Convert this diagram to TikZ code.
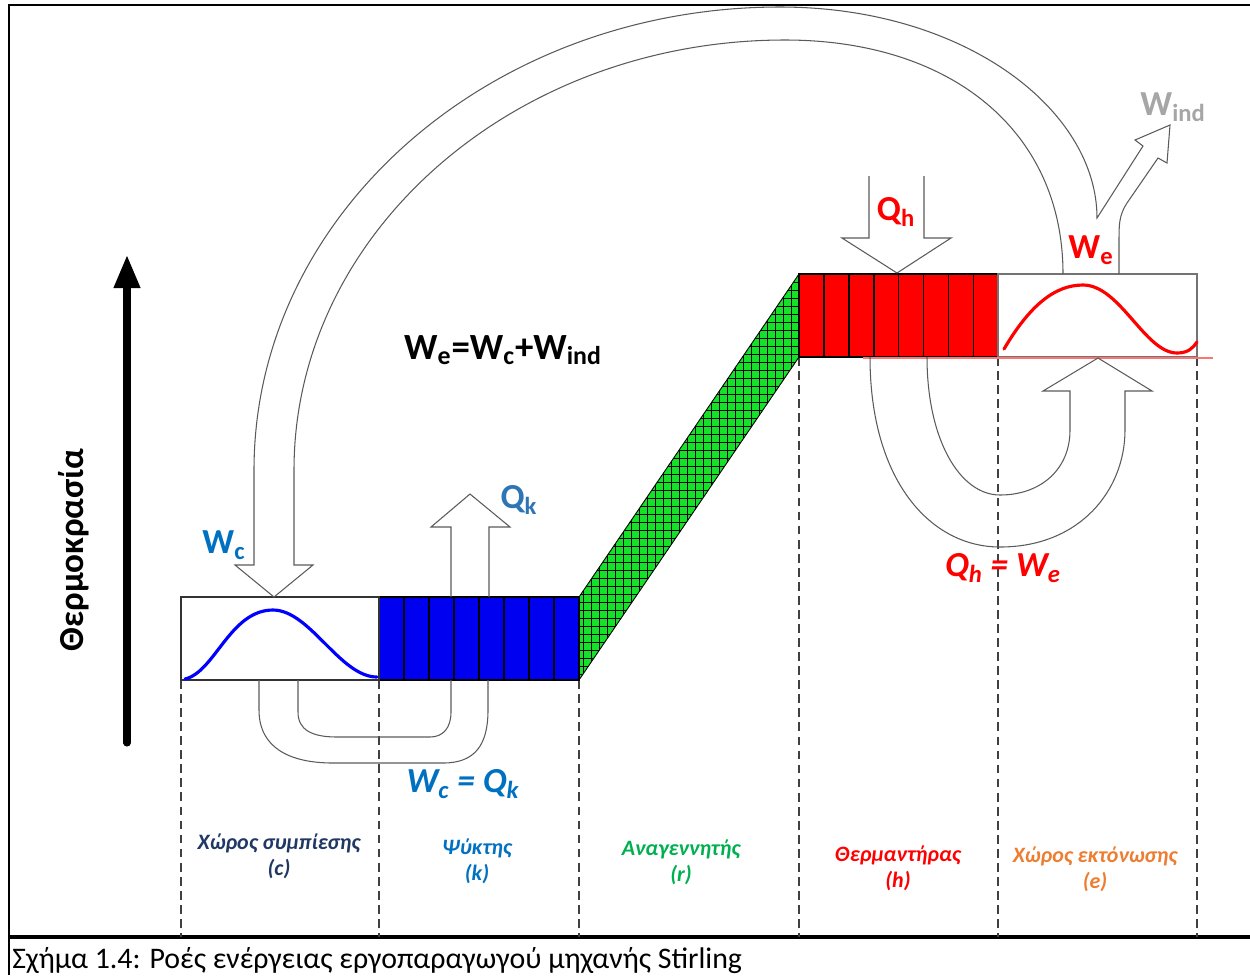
\documentclass[tikz,border=0pt]{standalone}
\usepackage{fontspec}
\setmainfont{Carlito}
\usepackage{xcolor}
\usepackage{tikz}
\usetikzlibrary{arrows.meta}

\definecolor{wcblue}{RGB}{0,112,192}
\definecolor{qkblue}{RGB}{46,117,182}
\definecolor{navy}{RGB}{31,56,100}
\definecolor{rgreen}{RGB}{0,176,80}
\definecolor{eorange}{RGB}{237,125,49}
\definecolor{meshgreen}{RGB}{20,225,40}
\definecolor{indgray}{RGB}{166,166,166}
\definecolor{flowgray}{RGB}{90,90,90}

\begin{document}
\begin{tikzpicture}[x=0.02cm, y=-0.02cm,
    flow/.style={draw=flowgray, line width=0.6pt},
    big/.style={inner sep=0pt, font=\fontsize{20}{24}\selectfont\bfseries},
    bigit/.style={inner sep=0pt, font=\fontsize{20}{24}\selectfont\bfseries\itshape},
    sect/.style={align=center, inner sep=0pt, font=\fontsize{12.5}{15}\selectfont\bfseries\itshape},
    vdash/.style={draw=black!75, line width=0.6pt, dash pattern=on 5pt off 3pt}]
  \useasboundingbox (0,0) rectangle (1250,975);
  % frame and caption
  \draw[line width=1.3pt] (9,975) -- (9,5) -- (1250,5);
  \draw[line width=2pt] (9,937) -- (1250,937);
  \node[anchor=base west, inner sep=0pt, font=\fontsize{17}{20}\selectfont] (cap)
    at (12,968) {Σχήμα 1.4: Ροές ενέργειας εργοπαραγωγού μηχανής Stirling};
  % temperature axis
  \coordinate (tlow) at (127,743);
  \coordinate (thigh) at (127,255);
  \draw[line width=4pt, line cap=round, -{Triangle[length=0.66cm, width=0.5cm]}] (tlow) -- (thigh);
  \node[rotate=90, inner sep=0pt, font=\fontsize{20}{24}\selectfont\bfseries] (temp) at (74,550) {Θερμοκρασία};
  % dashed section borders
  \foreach \xd/\yd in {181/680, 379/680, 579/680, 799/357, 998/357, 1197/357}
    \draw[vdash] (\xd,\yd) -- (\xd,937);
  % regenerator
  \begin{scope}
    \clip (579,597) -- (799,274) -- (799,357) -- (579,680) -- cycle;
    \fill[meshgreen] (579,270) rectangle (799,684);
    \foreach \gx in {583,591,...,799} \draw[line width=0.45pt] (\gx,270) -- (\gx,684);
    \foreach \gy in {274,282,...,684} \draw[line width=0.45pt] (579,\gy) -- (799,\gy);
  \end{scope}
  \draw[line width=0.5pt] (579,597) -- (799,274) (579,680) -- (799,357);
  % cooler and heater
  \fill[blue!94!black] (379,597) rectangle (579,680);
  \fill[red] (799,274) rectangle (998,357);
  \foreach \i in {1,...,7}{
    \draw[line width=0.9pt] ({379+25*\i},597) -- ++(0,83);
    \draw[line width=0.9pt] ({799+24.9*\i},274) -- ++(0,83);}
  \draw[line width=1.2pt] (379,597) rectangle (579,680);
  \draw[line width=1.2pt] (799,274) rectangle (998,357);
  % compression and expansion spaces
  \draw[line width=0.8pt, black!80] (181,597) rectangle (379,680);
  \draw[line width=0.8pt, black!55] (998,274) rectangle (1197,357);
  \draw[red!55, line width=0.8pt] (863,358) -- (1213,358);
  \draw[blue, line width=1.8pt, line cap=round] (185,679) .. controls (215,672) and (230,610) .. (273,610)
    .. controls (310,610) and (340,677) .. (377,677);
  \draw[red, line width=1.8pt, line cap=round] (1004,349) .. controls (1030,305) and (1055,285) .. (1083,285)
    .. controls (1120,285) and (1145,353) .. (1177,353) .. controls (1188,353) and (1193,348) .. (1197,342);
  % work flow from expansion to compression, W_ind branching off
  \draw[flow] (1063,274) .. controls (1063,130) and (950,40) .. (785,40)
    .. controls (514,40) and (294,233) .. (294,470) -- (294,565) -- (313,565) -- (274,597)
    -- (235,565) -- (254,565) -- (254,470) .. controls (254,214) and (490,7) .. (780,7)
    .. controls (965,7) and (1097,110) .. (1097,218) -- (1143,146) -- (1135,140) -- (1170,125)
    -- (1167,163) -- (1158,158) -- (1127,203) .. controls (1119,215) and (1119,225) .. (1119,240)
    -- (1119,274);
  % heat in and out
  \draw[flow] (451,597) -- (451,527) -- (431,527) -- (470,494) -- (510,527) -- (489,527) -- (489,597);
  \draw[flow] (869,176) -- (869,238) -- (842,238) -- (897,273) -- (951,238) -- (924,238) -- (924,176);
  % loops under the boxes
  \draw[flow] (259,680) -- (259,710) .. controls (259,748) and (290,763) .. (333,763) -- (443,763)
    .. controls (475,763) and (488,745) .. (488,710) -- (488,680);
  \draw[flow] (298,680) -- (298,712) .. controls (298,730) and (312,737) .. (337,737) -- (430,737)
    .. controls (443,737) and (451,728) .. (451,712) -- (451,680);
  \draw[flow] (870,357) .. controls (870,480) and (930,547) .. (1000,547)
    .. controls (1080,547) and (1125,490) .. (1125,430) -- (1125,391) -- (1152,391) -- (1098,358)
    -- (1043,391) -- (1070,391) -- (1070,430) .. controls (1070,470) and (1040,495) .. (1000,495)
    .. controls (960,495) and (927,440) .. (927,357);
  % labels
  \node[big, wcblue] (wc) at (224,545) {W\textsubscript{c}};
  \node[big, qkblue] (qk) at (519,500) {Q\textsubscript{k}};
  \node[big, red] (qh) at (896,212) {Q\textsubscript{h}};
  \node[big, red] (we) at (1091,250) {W\textsubscript{e}};
  \node[big, indgray] (wind) at (1173,107) {W\textsubscript{ind}};
  \node[inner sep=0pt, font=\fontsize{21}{25}\selectfont\bfseries] (bal)
    at (503,350) {W\textsubscript{e}=W\textsubscript{c}+W\textsubscript{ind}};
  \node[bigit, wcblue] (wcqk) at (463,784) {W\textsubscript{c} = Q\textsubscript{k}};
  \node[bigit, red] (qhwe) at (1003,568) {Q\textsubscript{h} = W\textsubscript{e}};
  \node[sect, navy] (lc) at (279,856) {Χώρος συμπίεσης\\(c)};
  \node[sect, wcblue] (lk) at (477,861) {Ψύκτης\\(k)};
  \node[sect, rgreen] (lr) at (681,862) {Αναγεννητής\\(r)};
  \node[sect, red] (lh) at (898,868) {Θερμαντήρας\\(h)};
  \node[sect, eorange] (le) at (1095,869) {Χώρος εκτόνωσης\\(e)};
\end{tikzpicture}
\end{document}
